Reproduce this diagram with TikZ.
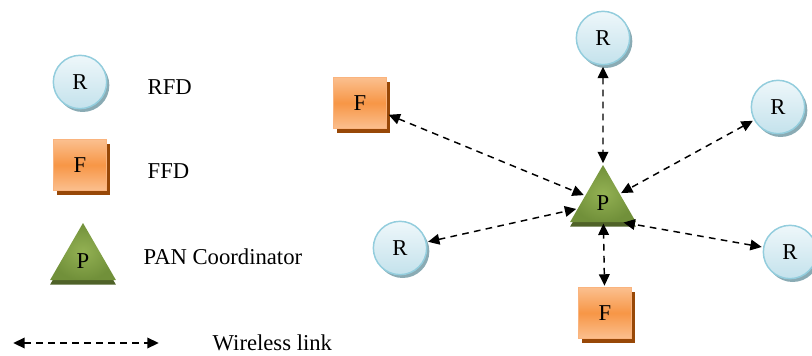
\documentclass[tikz,border=0pt]{standalone}
\usepackage{fontspec}
\setmainfont{Liberation Serif}
\usetikzlibrary{arrows.meta, shapes.geometric, shadows}

\definecolor{rfdline}{HTML}{93CDDD}
\definecolor{rfdtop}{HTML}{EEF7FA}
\definecolor{rfdbot}{HTML}{C4E2EC}
\definecolor{rfdshadow}{HTML}{8AABB4}
\definecolor{ffdline}{HTML}{FAB47E}
\definecolor{ffdlight}{HTML}{FBBF8E}
\definecolor{ffdmid}{HTML}{F79646}
\definecolor{ffdshadow}{HTML}{984807}
\definecolor{panlight}{HTML}{93B153}
\definecolor{pandark}{HTML}{71903A}
\definecolor{panshadow}{HTML}{4F6228}

\begin{document}
\begin{tikzpicture}[x=0.75pt,y=-0.75pt,font=\fontsize{17}{20}\selectfont,
		>={Triangle[length=8.5pt,width=8pt]},
		rfd/.style={circle, minimum size=40pt, inner sep=0pt, draw=rfdline, line width=1.1pt,
			top color=rfdtop, bottom color=rfdbot,
			drop shadow={shadow xshift=2pt, shadow yshift=-2.5pt, fill=rfdshadow, opacity=1}},
		ffd/.style={rectangle, minimum width=40pt, minimum height=38pt, inner sep=0pt, draw=ffdline, line width=1.1pt,
			top color=ffdlight, bottom color=ffdlight, middle color=ffdmid,
			drop shadow={shadow xshift=2.5pt, shadow yshift=-3.5pt, fill=ffdshadow, opacity=1}},
		pan/.style={regular polygon, regular polygon sides=3, minimum size=57pt, inner sep=0pt,
			inner color=panlight, outer color=pandark,
			drop shadow={shadow xshift=0pt, shadow yshift=-3.5pt, fill=panshadow, opacity=1}},
		link/.style={<->, dash pattern=on 5pt off 4pt, line width=1.1pt, shorten >=1pt, shorten <=1pt}]
		\useasboundingbox (0,0) rectangle (812,356);

		% legend
		\node[rfd] 	(r_l) 	at (80,82) 	{R};
		\node[ffd] 	(f_l) 	at (80,165) 	{F};
		\node[pan] 	(p_l) 	at (83,261) 	{P};
		\node[anchor=west] 	(t_r) 	at (143,87) 	{RFD};
		\node[anchor=west] 	(t_f) 	at (143,171) 	{FFD};
		\node[anchor=west] 	(t_p) 	at (139,257) 	{PAN Coordinator};
		\coordinate (l_a) at (12,343);
		\coordinate (l_b) at (160,343);
		\draw[link] (l_a) -- (l_b);
		\node[anchor=west] 	(t_l) 	at (208,343) 	{Wireless link};

		% star network
		\node[pan] 	(p_0) 	at (603,203) 	{P};
		\node[rfd] 	(r_1) 	at (603,38) 	{R};
		\node[rfd] 	(r_2) 	at (778,107) 	{R};
		\node[rfd] 	(r_3) 	at (790,252) 	{R};
		\node[rfd] 	(r_4) 	at (400,248) 	{R};
		\node[ffd] 	(f_1) 	at (360,103) 	{F};
		\node[ffd] 	(f_2) 	at (605,313) 	{F};
		\path[link]
			(f_1) 	edge 	(p_0)
			(r_1) 	edge 	(p_0)
			(r_2) 	edge 	(p_0)
			(r_3) 	edge 	(p_0.south east)
			(r_4) 	edge 	(p_0)
			(f_2) 	edge 	(p_0);
	\end{tikzpicture}
\end{document}
